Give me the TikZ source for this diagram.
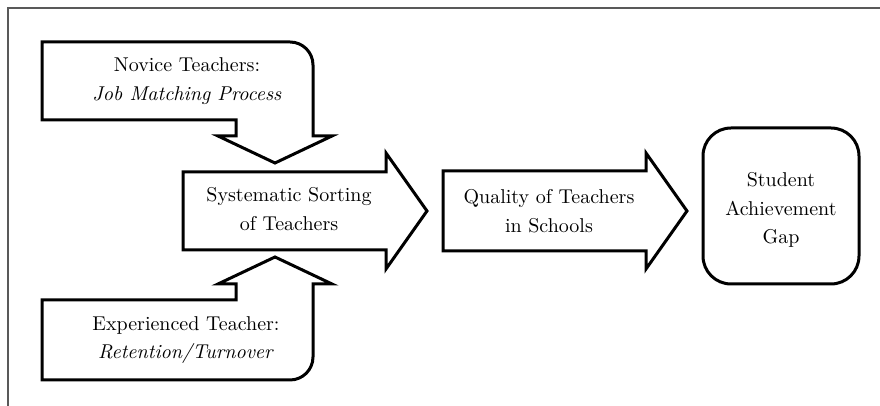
\documentclass[tikz,border=0pt]{standalone}
\usepackage{tikz}
\begin{document}
\begin{tikzpicture}[x=0.5pt,y=0.5pt,
		outline/.style={line width=1.5pt,line join=miter},
		lbl/.style={align=center,font=\linespread{1.2}\selectfont}]
			\useasboundingbox (0,0) rectangle (880,406);
			\draw[gray!70!black,line width=0.6pt](8,0) -- (8,398) -- (880,398);
			
			\draw[outline](42,286) -- (42,364) -- (290,364) arc[start angle=90,end angle=0,radius=23] -- (313,270) -- (332,270) -- (275,243) -- (218,270) -- (236,270) -- (236,286) -- cycle;
			\node[lbl](novice) at(187,325){Novice Teachers:\\\textit{Job Matching Process}};
			
			\draw[outline](42,106) -- (42,26) -- (290,26) arc[start angle=-90,end angle=0,radius=23] -- (313,122) -- (332,122) -- (275,149) -- (218,122) -- (236,122) -- (236,106) -- cycle;
			\node[lbl](experienced) at(186,66){Experienced Teacher:\\\textit{Retention/Turnover}};
			
			\draw[outline](183,156) -- (183,234) -- (386,234) -- (386,253) -- (427,195) -- (386,137) -- (386,156) -- cycle;
			\node[lbl](sorting) at(289,197){Systematic Sorting\\of Teachers};
			
			\draw[outline](443,155) -- (443,235) -- (646,235) -- (646,253) -- (687,195) -- (646,137) -- (646,155) -- cycle;
			\node[lbl](quality) at(549,195){Quality of Teachers\\in Schools};
			
			\draw[outline,rounded corners=14pt](703,122) rectangle (859,278);
			\node[lbl](gap) at(781,196){Student\\Achievement\\Gap};
		\end{tikzpicture}
\end{document}
